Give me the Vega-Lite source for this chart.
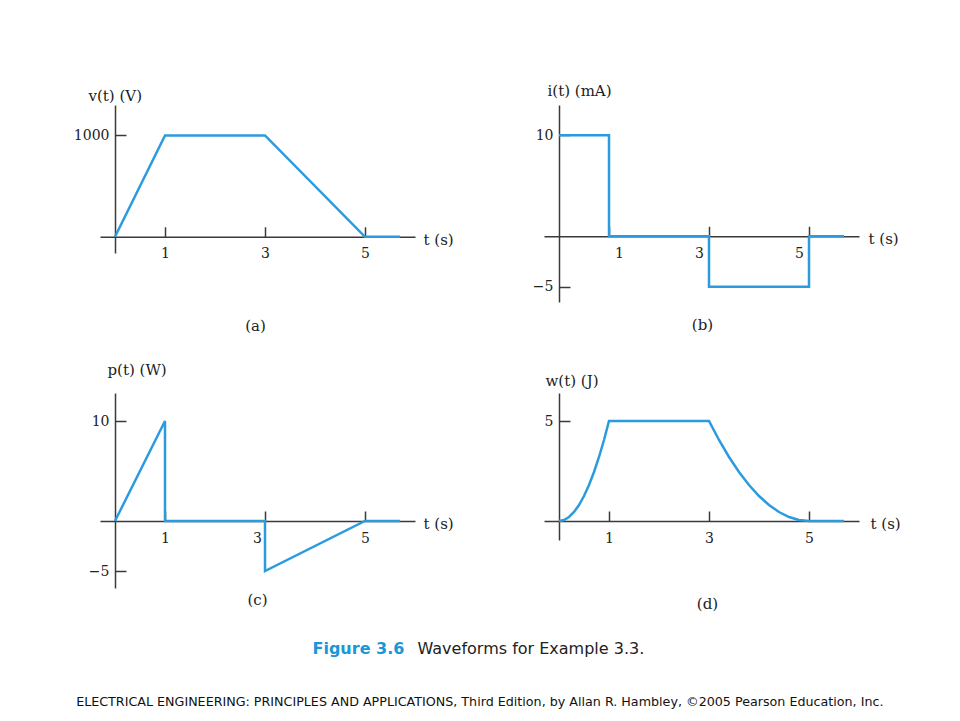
{
  "$schema": "https://vega.github.io/schema/vega-lite/v6.json",
  "background": "white",
  "padding": {"left": 73, "top": 83, "right": 10, "bottom": 10},
  "columns": 2,
  "spacing": {"row": 91, "column": 129},
  "bounds": "flush",
  "title": {
    "text": "ELECTRICAL ENGINEERING: PRINCIPLES AND APPLICATIONS, Third Edition, by Allan R. Hambley, ©2005 Pearson Education, Inc.",
    "orient": "bottom", "anchor": "middle", "offset": 40, "dx": -7,
    "font": "DejaVu Sans", "fontSize": 12.7, "fontWeight": "normal", "color": "#111111"
  },
  "datasets": {
    "va": [
      {"seq": 0, "t": 0, "value": 0},
      {"seq": 1, "t": 1, "value": 1000},
      {"seq": 2, "t": 3, "value": 1000},
      {"seq": 3, "t": 5, "value": 0},
      {"seq": 4, "t": 5.7, "value": 0}
    ],
    "ib": [
      {"seq": 0, "t": 0, "value": 10},
      {"seq": 1, "t": 1, "value": 10},
      {"seq": 2, "t": 1, "value": 0},
      {"seq": 3, "t": 3, "value": 0},
      {"seq": 4, "t": 3, "value": -5},
      {"seq": 5, "t": 5, "value": -5},
      {"seq": 6, "t": 5, "value": 0},
      {"seq": 7, "t": 5.7, "value": 0}
    ],
    "pc": [
      {"seq": 0, "t": 0, "value": 0},
      {"seq": 1, "t": 1, "value": 10},
      {"seq": 2, "t": 1, "value": 0},
      {"seq": 3, "t": 3, "value": 0},
      {"seq": 4, "t": 3, "value": -5},
      {"seq": 5, "t": 5, "value": 0},
      {"seq": 6, "t": 5.7, "value": 0}
    ],
    "wd": [
      {"seq": 0, "t": 0, "value": 0},
      {"seq": 1, "t": 0.1, "value": 0.05},
      {"seq": 2, "t": 0.2, "value": 0.2},
      {"seq": 3, "t": 0.3, "value": 0.45},
      {"seq": 4, "t": 0.4, "value": 0.8},
      {"seq": 5, "t": 0.5, "value": 1.25},
      {"seq": 6, "t": 0.6, "value": 1.8},
      {"seq": 7, "t": 0.7, "value": 2.45},
      {"seq": 8, "t": 0.8, "value": 3.2},
      {"seq": 9, "t": 0.9, "value": 4.05},
      {"seq": 10, "t": 1, "value": 5},
      {"seq": 11, "t": 3, "value": 5},
      {"seq": 12, "t": 3.2, "value": 4.05},
      {"seq": 13, "t": 3.4, "value": 3.2},
      {"seq": 14, "t": 3.6, "value": 2.45},
      {"seq": 15, "t": 3.8, "value": 1.8},
      {"seq": 16, "t": 4, "value": 1.25},
      {"seq": 17, "t": 4.2, "value": 0.8},
      {"seq": 18, "t": 4.4, "value": 0.45},
      {"seq": 19, "t": 4.6, "value": 0.2},
      {"seq": 20, "t": 4.8, "value": 0.05},
      {"seq": 21, "t": 5, "value": 0},
      {"seq": 22, "t": 5.7, "value": 0}
    ]
  },
  "concat": [
    {
      "width": 315, "height": 148,
      "data": {"name": "va"},
      "title": {"text": "(a)", "orient": "bottom", "frame": "group", "anchor": "middle", "offset": 58, "dx": -2},
      "mark": {"type": "line", "color": "#2b9be0", "strokeWidth": 2.5},
      "encoding": {
        "x": {"field": "t", "type": "quantitative",
          "scale": {"domain": [-0.3, 6], "nice": false, "zero": false},
          "axis": {"values": [1, 3, 5], "format": "d", "offset": -16.2, "title": "t (s)", "titleX": 323, "titleY": 3}},
        "y": {"field": "value", "type": "quantitative",
          "scale": {"domain": [-160, 1300], "nice": false, "zero": false},
          "axis": {"values": [1000], "format": "d", "offset": -15, "title": "v(t) (V)", "titleX": -27, "titleY": -5}},
        "order": {"field": "seq"}
      }
    },
    {
      "width": 315, "height": 197,
      "data": {"name": "ib"},
      "title": {"text": "(b)", "orient": "bottom", "frame": "group", "anchor": "middle", "offset": 16, "dx": 1},
      "mark": {"type": "line", "color": "#2b9be0", "strokeWidth": 2.5},
      "encoding": {
        "x": {"field": "t", "type": "quantitative",
          "scale": {"domain": [-0.3, 6], "nice": false, "zero": false},
          "axis": {"values": [1, 3, 5], "format": "d", "offset": -65.7, "title": "t (s)", "titleX": 324, "titleY": 2,
            "labelOffset": {"condition": {"test": "datum.value === 1", "value": 10}, "value": -10}}},
        "y": {"field": "value", "type": "quantitative",
          "scale": {"domain": [-6.5, 13], "nice": false, "zero": false},
          "axis": {"values": [10, -5], "format": "d", "offset": -15, "title": "i(t) (mA)", "titleX": -12, "titleY": -10}},
        "order": {"field": "seq"}
      }
    },
    {
      "width": 315, "height": 195,
      "title": {"text": "(c)", "orient": "bottom", "frame": "group", "anchor": "middle", "offset": -63},
      "resolve": {"axis": {"x": "independent"}},
      "layer": [
        {
          "data": {"name": "pc"},
          "mark": {"type": "line", "color": "#2b9be0", "strokeWidth": 2.5},
          "encoding": {
            "x": {"field": "t", "type": "quantitative",
              "scale": {"domain": [-0.3, 6], "nice": false, "zero": false},
              "axis": {"orient": "bottom", "values": [1, 3, 5], "format": "d", "offset": -67, "title": "t (s)", "titleX": 323, "titleY": 2,
                "labelOffset": {"condition": {"test": "datum.value === 3", "value": -8}, "value": 0}}},
            "y": {"field": "value", "type": "quantitative",
              "scale": {"domain": [-6.7, 12.8], "nice": false, "zero": false},
              "axis": {"values": [10, -5], "format": "d", "offset": -15, "title": "p(t) (W)", "titleX": -8, "titleY": -19}},
            "order": {"field": "seq"}
          }
        },
        {
          "data": {"values": []},
          "mark": {"type": "point", "opacity": 0},
          "encoding": {
            "x": {"field": "t", "type": "quantitative",
              "scale": {"domain": [-0.3, 6], "nice": false, "zero": false},
              "axis": {"orient": "bottom", "domain": false, "ticks": false, "labels": false, "offset": 0,
                "title": "Figure 3.6", "titleX": 212, "titleY": 65, "titleAlign": "left", "titleBaseline": "alphabetic",
                "titleFont": "DejaVu Sans", "titleFontWeight": "bold", "titleFontSize": 16, "titleColor": "#1b96d6"}}
          }
        }
      ]
    },
    {
      "width": 315, "height": 147,
      "title": {"text": "(d)", "orient": "bottom", "frame": "group", "anchor": "middle", "offset": -59, "dx": 6},
      "resolve": {"axis": {"x": "independent"}},
      "layer": [
        {
          "data": {"name": "wd"},
          "mark": {"type": "line", "color": "#2b9be0", "strokeWidth": 2.5},
          "encoding": {
            "x": {"field": "t", "type": "quantitative",
              "scale": {"domain": [-0.3, 6], "nice": false, "zero": false},
              "axis": {"orient": "bottom", "values": [1, 3, 5], "format": "d", "offset": -19, "title": "t (s)", "titleX": 326, "titleY": 2}},
            "y": {"field": "value", "type": "quantitative",
              "scale": {"domain": [-0.95, 6.4], "nice": false, "zero": false},
              "axis": {"values": [5], "format": "d", "offset": -15, "title": "w(t) (J)", "titleX": -14, "titleY": -8}},
            "order": {"field": "seq"}
          }
        },
        {
          "data": {"values": []},
          "mark": {"type": "point", "opacity": 0},
          "encoding": {
            "x": {"field": "t", "type": "quantitative",
              "scale": {"domain": [-0.3, 6], "nice": false, "zero": false},
              "axis": {"orient": "bottom", "domain": false, "ticks": false, "labels": false, "offset": 0,
                "title": "Waveforms for Example 3.3.", "titleX": -127, "titleY": 113, "titleAlign": "left", "titleBaseline": "alphabetic",
                "titleFont": "DejaVu Sans", "titleFontWeight": "normal", "titleFontSize": 16, "titleColor": "#222222"}}
          }
        }
      ]
    }
  ],
  "config": {
    "view": {"stroke": null},
    "title": {"font": "DejaVu Serif", "fontSize": 15, "fontWeight": "normal", "color": "#222222"},
    "axis": {
      "grid": false, "domainColor": "#3a3a3a", "domainWidth": 1.5, "tickColor": "#3a3a3a", "tickWidth": 1.5,
      "labelFont": "DejaVu Serif", "labelFontSize": 14, "labelColor": "#222222", "labelFlush": false, "labelOverlap": false,
      "titleFont": "DejaVu Serif", "titleFontSize": 15, "titleFontWeight": "normal", "titleColor": "#222222", "zindex": 1
    },
    "axisX": {"tickSize": -10, "labelPadding": 20, "titleAlign": "left", "titleBaseline": "middle", "titleAngle": 0},
    "axisY": {"tickSize": -11, "labelPadding": 17, "titleAlign": "left", "titleBaseline": "alphabetic", "titleAngle": 0}
  }
}
